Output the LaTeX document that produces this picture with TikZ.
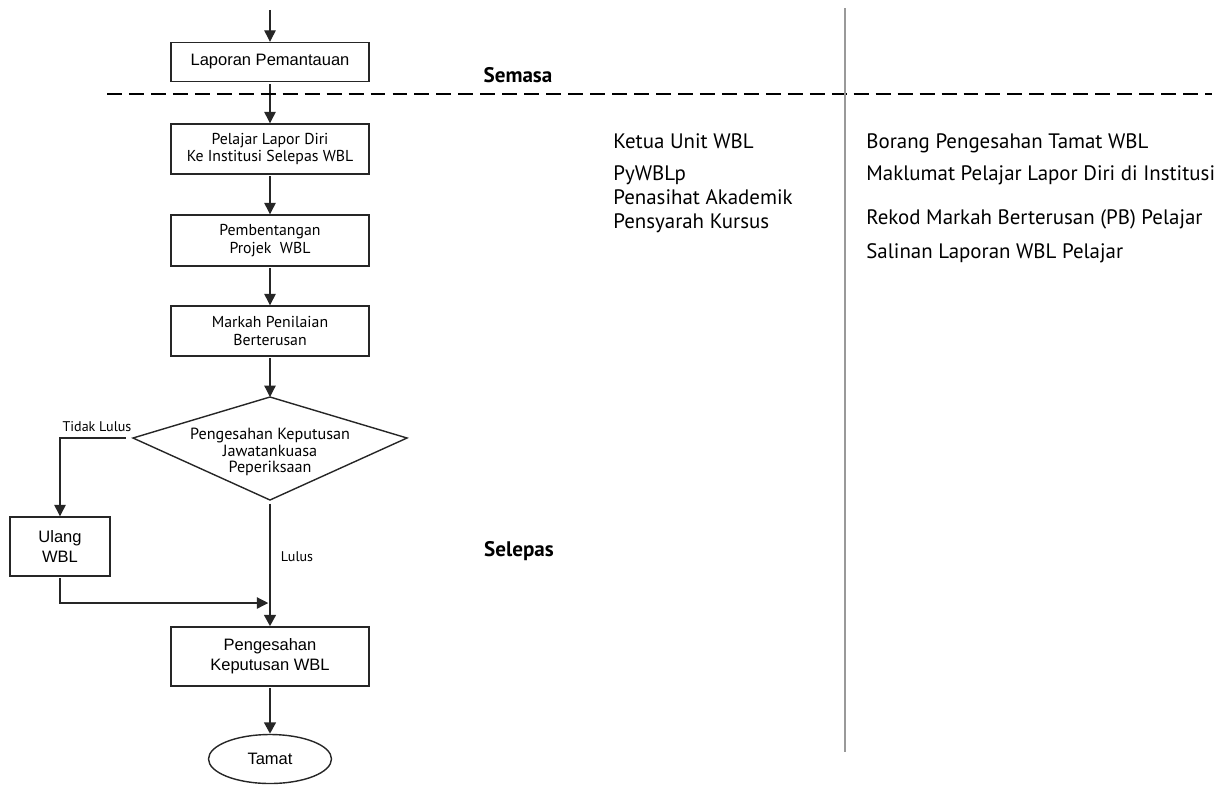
\documentclass[tikz,border=0pt]{standalone}
\usepackage{fontspec}
\setmainfont{Liberation Sans}
\newfontfamily\myr{PT Sans}
\usetikzlibrary{arrows.meta,shapes.geometric}
\tikzset{kotak/.style={draw=black!85, line width=0.8pt, rectangle, inner sep=0pt, minimum width=3.96cm, align=center, font=\fontsize{9.4}{11.5}\selectfont}}
\tikzset{kotakm/.style={kotak, font=\myr\fontsize{9}{9.8}\selectfont}}
\tikzset{alir/.style={draw=black!85, line width=0.7pt, -{Triangle[length=6.5pt,width=6.5pt]}, shorten <=1pt}}
\tikzset{alirtebal/.style={alir, line width=1.7pt, -{Triangle[length=6.5pt,width=6.5pt]}}}
\tikzset{teks/.style={font=\myr\fontsize{11.9}{13}\selectfont, anchor=base west, inner sep=0pt}}
\tikzset{tajuk/.style={font=\myr\bfseries\fontsize{12}{14}\selectfont, inner sep=0pt}}
\tikzset{label/.style={font=\myr\fontsize{8}{9}\selectfont, inner sep=0pt}}

\begin{document}
\begin{tikzpicture}[x=0.02cm, y=-0.02cm]
		\useasboundingbox (0,0) rectangle (1226,785);
		
		\coordinate (mula) at (270,8);
		\node[kotak, minimum height=0.78cm] (lapor) at (270,62) {Laporan Pemantauan};
		\node[kotakm, minimum height=1cm] (pelajar) at (270,149) {Pelajar Lapor Diri\\Ke Institusi Selepas WBL};
		\node[kotakm, minimum height=1.02cm] (bentang) at (270,240.5) {Pembentangan\\Projek\ \ WBL};
		\node[kotakm, minimum height=1cm] (markah) at (270,331) {Markah Penilaian\\Berterusan};
		
		% keputusan jawatankuasa
		\coordinate (kpU) at (270,397);
		\coordinate (kpB) at (407,438);
		\coordinate (kpS) at (270,500);
		\coordinate (kpT) at (133,438);
		\draw[draw=black!85, line width=0.8pt] (kpU) -- (kpB) -- (kpS) -- (kpT) -- cycle;
		\node[font=\myr\fontsize{9.2}{9.4}\selectfont, align=center, inner sep=0pt] (kp) at (270,452) {Pengesahan Keputusan\\Jawatankuasa\\Peperiksaan};
		
		\node[kotak, minimum width=2cm, minimum height=1.18cm] (ulang) at (60,546.5) {Ulang\\WBL};
		\node[kotak, minimum height=1.18cm] (sah) at (270,656.5) {Pengesahan\\Keputusan WBL};
		\node[draw=black!85, line width=0.8pt, ellipse, inner sep=0pt, minimum width=2.46cm, minimum height=0.98cm, font=\fontsize{9.4}{11.5}\selectfont] (tamat) at (270,759) {Tamat};
		\coordinate (temu) at (270,603);
		
		\draw[alir] (mula) -- (lapor);
		\draw[alir] (lapor) -- (pelajar);
		\draw[alir] (pelajar) -- (bentang);
		\draw[alir] (bentang) -- (markah);
		\draw[alir] (markah) -- (kpU);
		\draw[alir, shorten <=4pt] (kpT) -| (ulang);
		\node[label] (gagal) at (97,427) {Tidak Lulus};
		\draw[alirtebal, shorten <=2pt] (kpS) -- (sah);
		\node[label] (lulus) at (297,557) {Lulus};
		\draw[alir, shorten >=1pt] (ulang) |- (temu);
		\draw[alirtebal] (sah) -- (tamat);
		
		% garis pemisah
		\coordinate (sempA) at (107,94);
		\coordinate (sempB) at (1212,94);
		\draw[black, line width=0.75pt, dash pattern=on 8.5pt off 4pt] (sempA) -- (sempB);
		\coordinate (pisahA) at (845,8);
		\coordinate (pisahB) at (845,752);
		\draw[black!40, line width=1.1pt] (pisahA) -- (pisahB);
		
		\node[tajuk] (semasa) at (518,75) {Semasa};
		\node[tajuk] (selepas) at (519,551) {Selepas};
		
		\node[teks] (ketua) at (613,148) {Ketua Unit WBL};
		\node[teks] (pywblp) at (613,180) {PyWBLp};
		\node[teks] (pa) at (613,204) {Penasihat Akademik};
		\node[teks] (pk) at (613,228) {Pensyarah Kursus};
		
		\node[teks] (borang) at (866,148) {Borang Pengesahan Tamat WBL};
		\node[teks] (maklumat) at (866,180) {Maklumat Pelajar Lapor Diri di Institusi};
		\node[teks] (rekod) at (866,224) {Rekod Markah Berterusan (PB) Pelajar};
		\node[teks] (salinan) at (866,258) {Salinan Laporan WBL Pelajar};
\end{tikzpicture}
\end{document}
